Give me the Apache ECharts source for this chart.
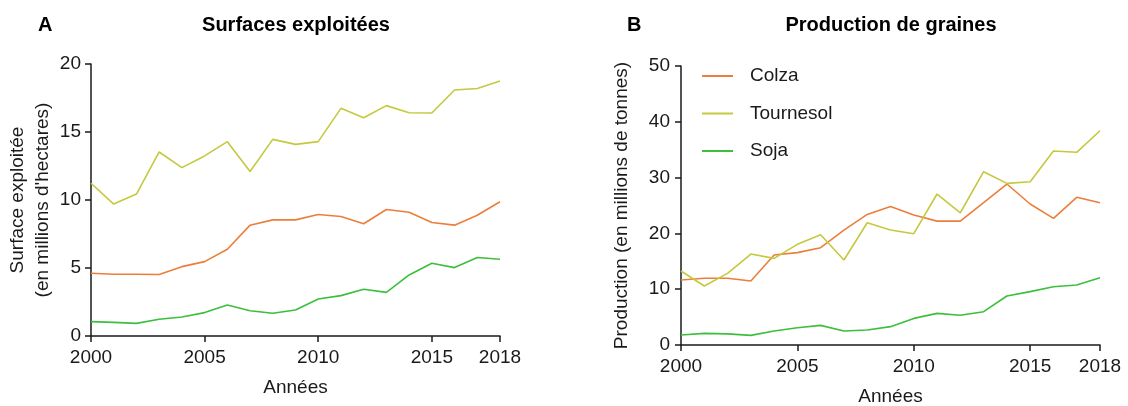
<!DOCTYPE html>
<html>
<head>
<meta charset="utf-8">
<script src="https://cdn.jsdelivr.net/npm/echarts@6/dist/echarts.min.js"></script>
<style>html,body{margin:0;padding:0;background:#fff}#c{width:1128px;height:406px}</style>
</head>
<body>
<div id="c"></div>
<script>
const years = [2000,2001,2002,2003,2004,2005,2006,2007,2008,2009,2010,2011,2012,2013,2014,2015,2016,2017,2018];
const seriesNames = ['Colza', 'Tournesol', 'Soja'];
// Surfaces exploitées (millions d'hectares)
const surfColza = [4.61,4.54,4.54,4.52,5.1,5.47,6.38,8.15,8.54,8.54,8.93,8.79,8.25,9.3,9.1,8.34,8.15,8.88,9.87];
const surfTournesol = [11.23,9.7,10.44,13.53,12.38,13.24,14.29,12.1,14.46,14.09,14.29,16.74,16.05,16.94,16.42,16.4,18.09,18.2,18.75];
const surfSoja = [1.06,1.0,0.93,1.23,1.4,1.72,2.28,1.86,1.67,1.91,2.72,2.97,3.44,3.21,4.49,5.35,5.03,5.77,5.64];
// Production de graines (millions de tonnes)
const prodColza = [11.65,11.95,11.95,11.47,16.13,16.55,17.44,20.6,23.4,24.8,23.3,22.2,22.2,25.5,28.85,25.27,22.7,26.47,25.5];
const prodTournesol = [13.26,10.57,12.84,16.3,15.53,18.04,19.77,15.23,21.9,20.6,19.95,27.06,23.7,31.06,28.97,29.27,34.77,34.53,38.4];
const prodSoja = [1.79,2.09,2.0,1.73,2.51,3.1,3.52,2.51,2.69,3.29,4.77,5.67,5.32,5.97,8.78,9.56,10.45,10.75,12.07];

const colors = ['#EC7E3C', '#C4C93E', '#3CBF3C'];
const FONT = 'Liberation Sans, Arial, sans-serif';
const TXT = '#1a1a1a';

function pairs(vals){ return years.map((y,i)=>[y, vals[i]]); }

function xAxis(gi){
  return {
    gridIndex: gi, type: 'value', min: 2000, max: 2018, interval: 5,
    name: 'Années', nameLocation: 'middle', nameGap: 42,
    nameTextStyle: {fontFamily: FONT, fontSize: 19, color: TXT},
    axisLine: {lineStyle: {color: TXT, width: 1.5}},
    axisTick: {length: 6, lineStyle: {color: TXT, width: 1.5}},
    axisLabel: {fontFamily: FONT, fontSize: 19, color: TXT, margin: 12, showMaxLabel: true, formatter: v => String(v)},
    splitLine: {show: false}
  };
}
function yAxis(gi, max, interval, name, gap, lh, margin){
  return {
    gridIndex: gi, type: 'value', min: 0, max: max, interval: interval,
    name: name, nameLocation: 'middle', nameGap: gap, nameRotate: 90,
    nameTextStyle: {fontFamily: FONT, fontSize: 19, color: TXT, lineHeight: lh},
    axisLine: {show: true, lineStyle: {color: TXT, width: 1.5}},
    axisTick: {show: true, length: 6, lineStyle: {color: TXT, width: 1.5}},
    axisLabel: {fontFamily: FONT, fontSize: 19, color: TXT, margin: margin},
    splitLine: {show: false}
  };
}
function line(name, data, gi, ci){
  return {
    name: name, type: 'line', xAxisIndex: gi, yAxisIndex: gi,
    data: pairs(data), symbol: 'none', smooth: false,
    lineStyle: {color: colors[ci], width: 1.6}, itemStyle: {color: colors[ci]},
    emphasis: {disabled: true}, animation: false
  };
}

const chart = echarts.init(document.getElementById('c'), null, {renderer: 'canvas'});
chart.setOption({
  animation: false,
  backgroundColor: '#fff',
  grid: [
    {left: 91, right: 628, top: 64, bottom: 70, outerBoundsMode: 'none', containLabel: false},
    {left: 681, right: 28, top: 66, bottom: 61, outerBoundsMode: 'none', containLabel: false}
  ],
  xAxis: [xAxis(0), xAxis(1)],
  yAxis: [
    yAxis(0, 20, 5, "Surface exploitée\n(en millions d'hectares)", 36, 25, 10),
    yAxis(1, 50, 10, 'Production (en millions de tonnes)', 49, 20, 11)
  ],
  legend: {
    show: true, orient: 'vertical', left: 697, top: 61,
    data: seriesNames, icon: 'rect', itemWidth: 31, itemHeight: 2, itemGap: 17.5,
    textStyle: {fontFamily: FONT, fontSize: 19, color: TXT, lineHeight: 20, padding: [0,0,0,12]},
    selectedMode: false
  },
  graphic: [
    {type: 'text', style: {text: 'A', x: 38, y: 25, textVerticalAlign: 'middle', font: 'bold 20px ' + FONT, fill: '#000'}},
    {type: 'text', style: {text: 'Surfaces exploitées', x: 296, y: 25, textAlign: 'center', textVerticalAlign: 'middle', font: 'bold 20px ' + FONT, fill: '#000'}},
    {type: 'text', style: {text: 'B', x: 627, y: 25, textVerticalAlign: 'middle', font: 'bold 20px ' + FONT, fill: '#000'}},
    {type: 'text', style: {text: 'Production de graines', x: 891, y: 25, textAlign: 'center', textVerticalAlign: 'middle', font: 'bold 20px ' + FONT, fill: '#000'}}
  ],
  series: [
    line('Colza', surfColza, 0, 0),
    line('Tournesol', surfTournesol, 0, 1),
    line('Soja', surfSoja, 0, 2),
    line('Colza', prodColza, 1, 0),
    line('Tournesol', prodTournesol, 1, 1),
    line('Soja', prodSoja, 1, 2)
  ]
});
</script>
</body>
</html>
